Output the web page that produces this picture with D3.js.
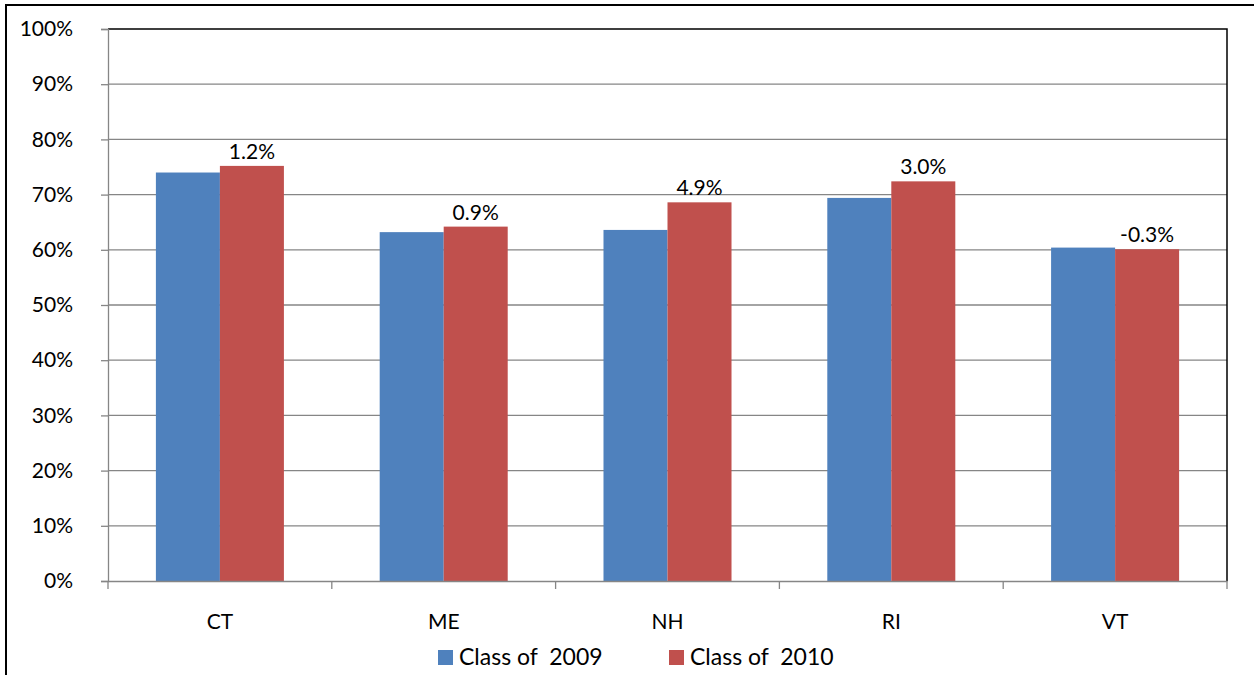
<!DOCTYPE html>
<html>
<head>
<meta charset="utf-8">
<script src="https://d3js.org/d3.v7.min.js"></script>
<style>
body { margin: 0; background: #fff; }
svg text { font-family: Lato, "Open Sans", sans-serif; fill: #000; }
</style>
</head>
<body>
<svg id="chart" width="1254" height="675"></svg>
<script>
// data
var states = ["CT", "ME", "NH", "RI", "VT"];
var class2009 = [74.0, 63.2, 63.6, 69.4, 60.4];
var class2010 = [75.2, 64.2, 68.6, 72.4, 60.1];
var changeLabels = ["1.2%", "0.9%", "4.9%", "3.0%", "-0.3%"];
var seriesNames = ["Class of  2009", "Class of  2010"];
var seriesColors = ["#4f81bd", "#c0504d"];
var yTicks = [0, 10, 20, 30, 40, 50, 60, 70, 80, 90, 100];

var svg = d3.select("#chart");
var fontSize = "21px";

// outer frame
svg.append("path")
  .attr("d", "M6,676 V5 H1256")
  .attr("fill", "none")
  .attr("stroke", "#000")
  .attr("stroke-width", 2);

var plotLeft = 108, plotRight = 1227, plotTop = 29, plotBottom = 581;

var x = d3.scaleBand().domain(states).range([plotLeft, plotRight]).padding(0);
var gap = x.bandwidth() * 0.428;
var x1 = d3.scaleBand().domain([0, 1]).range([gap / 2, x.bandwidth() - gap / 2]);
var y = d3.scaleLinear().domain([0, 100]).range([plotBottom, plotTop]);

// gridlines
svg.append("g").selectAll("line")
  .data(yTicks.slice(1, -1))
  .enter().append("line")
  .attr("x1", plotLeft).attr("x2", plotRight)
  .attr("y1", function(d) { return y(d); })
  .attr("y2", function(d) { return y(d); })
  .attr("stroke", "#868686").attr("stroke-width", 1.3);

// plot area border (top / right dark)
svg.append("path")
  .attr("d", "M" + plotLeft + "," + y(100) + " H" + plotRight + " V" + plotBottom)
  .attr("fill", "none")
  .attr("stroke", "#000")
  .attr("stroke-width", 1.5);

// bars
var rows = states.map(function(s, i) { return { s: s, v: [class2009[i], class2010[i]], lab: changeLabels[i] }; });
var groups = svg.append("g").selectAll("g")
  .data(rows)
  .enter().append("g")
  .attr("transform", function(d) { return "translate(" + x(d.s) + ",0)"; });

groups.selectAll("rect")
  .data(function(d) { return d.v.map(function(v, k) { return { k: k, v: v }; }); })
  .enter().append("rect")
  .attr("x", function(d) { return x1(d.k); })
  .attr("width", x1.bandwidth())
  .attr("y", function(d) { return y(d.v); })
  .attr("height", function(d) { return y(0) - y(d.v); })
  .attr("fill", function(d) { return seriesColors[d.k]; });

// change labels over the 2010 bar
groups.append("text")
  .attr("x", x1(1) + x1.bandwidth() / 2)
  .attr("y", function(d) { return y(d.v[1]) - 7; })
  .attr("text-anchor", "middle")
  .attr("font-size", fontSize)
  .text(function(d) { return d.lab; });

// y axis
var yAxis = svg.append("g")
  .attr("transform", "translate(" + plotLeft + ",0)")
  .call(d3.axisLeft(y).tickValues(yTicks).tickSize(7).tickPadding(28)
    .tickFormat(function(d) { return d + "%"; }));
yAxis.select(".domain").attr("stroke", "#868686").attr("stroke-width", 1.3);
yAxis.selectAll(".tick line").attr("stroke", "#868686").attr("stroke-width", 1.3);
yAxis.selectAll("text").attr("font-size", fontSize).attr("font-family", "Lato, sans-serif");

// x axis
var xAxis = svg.append("g")
  .attr("transform", "translate(0," + plotBottom + ")")
  .call(d3.axisBottom(x).tickSize(0).tickPadding(33));
xAxis.select(".domain").attr("stroke", "#868686").attr("stroke-width", 1.3);
xAxis.selectAll("text").attr("font-size", fontSize).attr("font-family", "Lato, sans-serif");
// boundary ticks
svg.append("g").selectAll("line")
  .data(states.map(function(s) { return x(s); }).concat([plotRight]))
  .enter().append("line")
  .attr("x1", function(d) { return d; }).attr("x2", function(d) { return d; })
  .attr("y1", plotBottom).attr("y2", plotBottom + 8)
  .attr("stroke", "#868686").attr("stroke-width", 1.3);

// legend
var legendX = [438, 669];
var legend = svg.append("g").selectAll("g")
  .data(seriesNames)
  .enter().append("g")
  .attr("transform", function(d, i) { return "translate(" + legendX[i] + ",650)"; });
legend.append("rect").attr("width", 15).attr("height", 15)
  .attr("fill", function(d, i) { return seriesColors[i]; });
legend.append("text").attr("x", 21).attr("y", 15)
  .attr("font-size", "23px")
  .style("white-space", "pre")
  .text(function(d) { return d; });
</script>
</body>
</html>
